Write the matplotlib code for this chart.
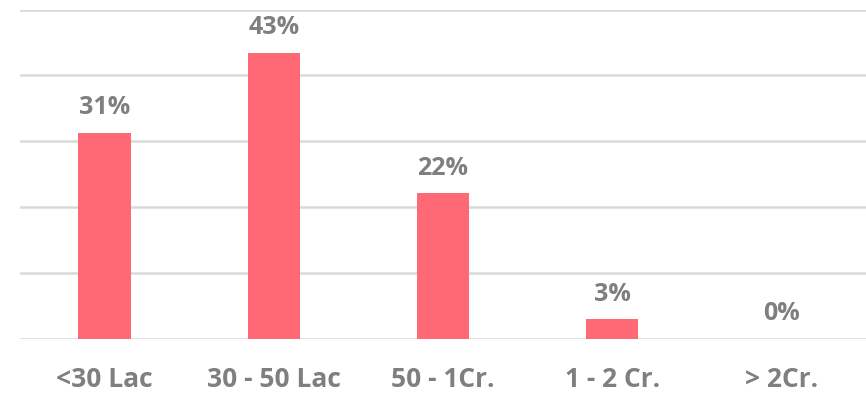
import matplotlib
matplotlib.use("Agg")
import matplotlib.pyplot as plt

categories = ["<30 Lac", "30 - 50 Lac", "50 - 1Cr.", "1 - 2 Cr.", "> 2Cr."]
values = [31.3, 43.4, 22.1, 3.0, 0.0]
labels = ["31%", "43%", "22%", "3%", "0%"]

plt.rcParams['font.family'] = ['Open Sans', 'DejaVu Sans']

fig = plt.figure(figsize=(8.66, 3.95), dpi=100)
ax = fig.add_axes([20/866, 1-339/395, 1-20/866, (339-9.5)/395])

x = list(range(len(categories)))
bars = ax.bar(x, values, width=0.31, color="#FF6875", zorder=3)
ax.set_xlim(-0.5, len(categories) - 0.5)
ax.set_ylim(0, 50)
ax.set_yticks([0, 10, 20, 30, 40, 50])
ax.yaxis.grid(True, color="#D9D9D9", linewidth=1.8, zorder=0)
ax.tick_params(axis='y', left=False, labelleft=False)
ax.tick_params(axis='x', bottom=False, pad=16)
ax.set_xticks(x)
ax.set_xticklabels(categories, fontsize=19, fontweight='bold', color="#7F7F7F")
for s in ax.spines.values():
    s.set_visible(False)

for xi, v, lab in zip(x, values, labels):
    ax.annotate(lab, (xi, v), xytext=(0, 9), textcoords="offset points",
                ha="center", va="bottom", fontsize=18, fontweight='bold',
                color="#7F7F7F", annotation_clip=False)

fig.savefig("out.png", dpi=100)
